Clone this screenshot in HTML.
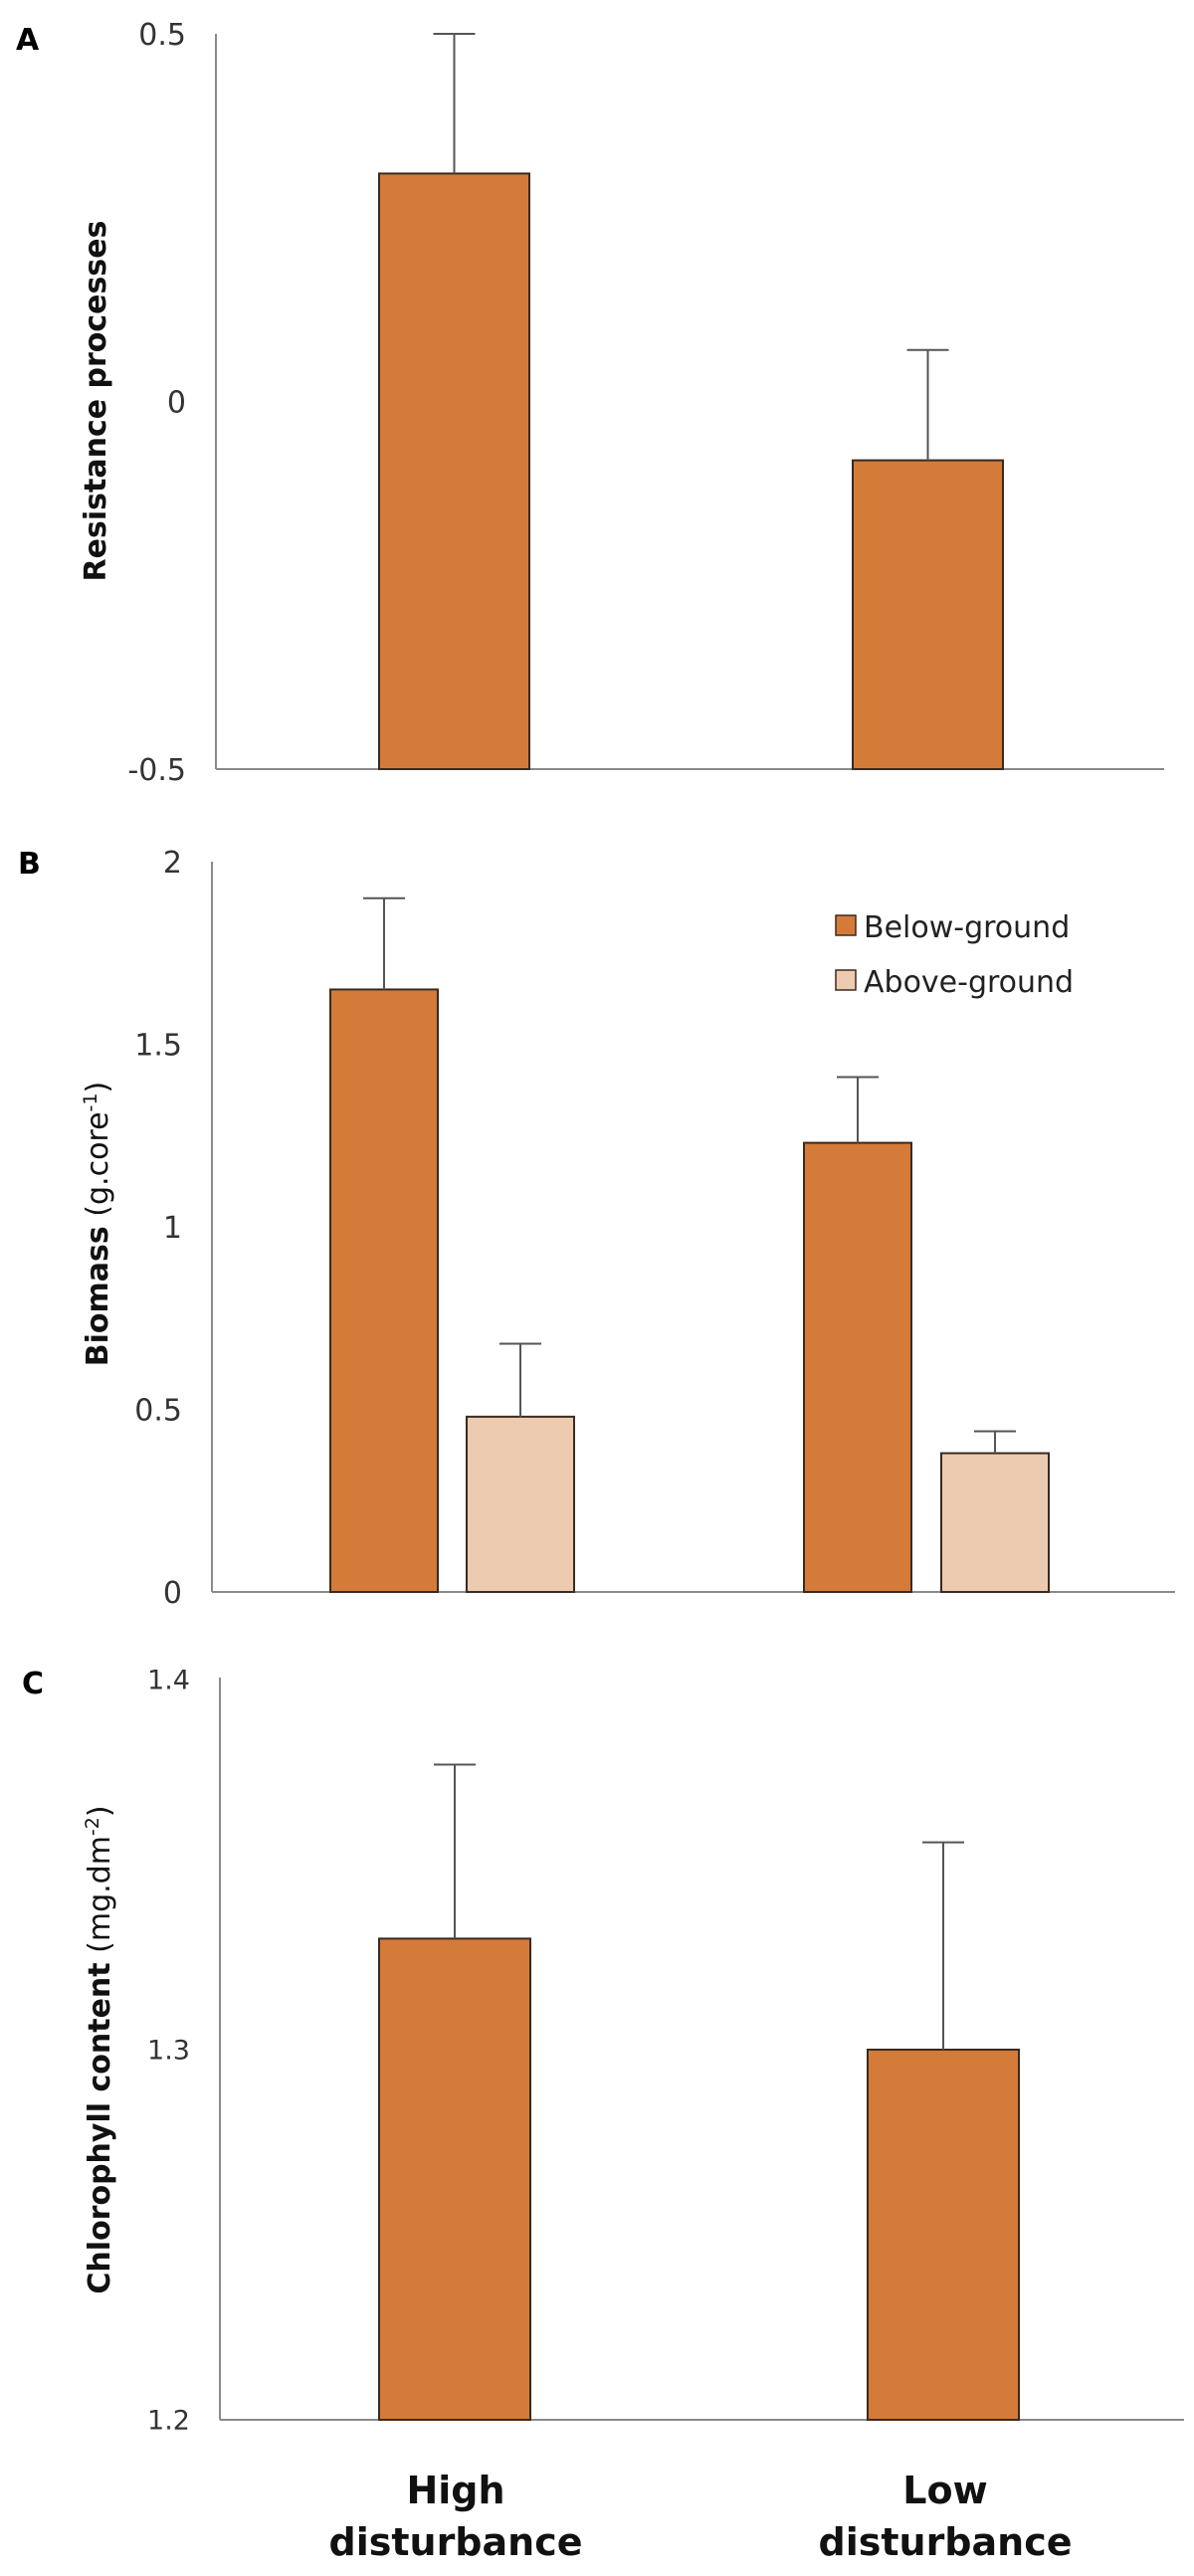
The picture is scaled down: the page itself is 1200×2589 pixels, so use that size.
<!DOCTYPE html>
<html><head><meta charset="utf-8"><style>
html,body{margin:0;padding:0;background:#fff;}
svg{display:block;font-family:"DejaVu Sans","Liberation Sans",sans-serif;}
</style></head><body>
<svg id="fig" width="1200" height="2589" viewBox="0 0 1200 2589">
<g>
<text x="16" y="50" font-size="30" font-weight="bold" fill="#000">A</text>
<text transform="translate(106,403) rotate(-90)" text-anchor="middle" font-size="30" font-weight="bold" fill="#111">Resistance processes</text>
</g>
<g>
<text x="18" y="878" font-size="30" font-weight="bold" fill="#000">B</text>
<text transform="translate(108,1230) rotate(-90)" text-anchor="middle" font-size="30" fill="#111"><tspan font-weight="bold">Biomass</tspan> (g.core<tspan font-size="19" dy="-11">-1</tspan><tspan dy="11">)</tspan></text>
<rect x="840" y="920" width="20" height="20" fill="#D47B3A" stroke="#3a2a20" stroke-width="1.5"/>
<text x="868" y="942" font-size="30" fill="#222">Below-ground</text>
<rect x="840" y="975" width="20" height="20" fill="#EDCBB0" stroke="#3a2a20" stroke-width="1.5"/>
<text x="868" y="997" font-size="30" fill="#222">Above-ground</text>
</g>
<g>
<text x="22" y="1702" font-size="30" font-weight="bold" fill="#000">C</text>
<text transform="translate(110,2060) rotate(-90)" text-anchor="middle" font-size="30" fill="#111"><tspan font-weight="bold">Chlorophyll content</tspan> (mg.dm<tspan font-size="19" dy="-11">-2</tspan><tspan dy="11">)</tspan></text>
<text x="458" y="2516" text-anchor="middle" font-size="38" font-weight="bold" fill="#111">High</text>
<text x="458" y="2568" text-anchor="middle" font-size="38" font-weight="bold" fill="#111">disturbance</text>
<text x="950" y="2516" text-anchor="middle" font-size="38" font-weight="bold" fill="#111">Low</text>
<text x="950" y="2568" text-anchor="middle" font-size="38" font-weight="bold" fill="#111">disturbance</text>
</g>
</svg>
<script>
// Panel A data
const aCategories = ["High disturbance", "Low disturbance"];
const aValues = [0.31, -0.08];
const aErrors = [0.19, 0.15];
const aTicks = [0.5, 0, -0.5];
const aTickLabels = ["0.5", "0", "-0.5"];
// Panel B data
const bCategories = ["High disturbance", "Low disturbance"];
const bBelow = [1.65, 1.23];
const bBelowErr = [0.25, 0.18];
const bAbove = [0.48, 0.38];
const bAboveErr = [0.20, 0.06];
const bTicks = [2, 1.5, 1, 0.5, 0];
const bTickLabels = ["2", "1.5", "1", "0.5", "0"];
// Panel C data
const cCategories = ["High disturbance", "Low disturbance"];
const cValues = [1.33, 1.30];
const cErrors = [0.047, 0.056];
const cTicks = [1.4, 1.3, 1.2];
const cTickLabels = ["1.4", "1.3", "1.2"];

const NS = "http://www.w3.org/2000/svg";
const svg = document.getElementById("fig");
function mk(tag, attrs, parent) {
  const e = document.createElementNS(NS, tag);
  for (const k in attrs) e.setAttribute(k, attrs[k]);
  (parent || svg).appendChild(e);
  return e;
}
function scaleY(min, max, yBottom, yTop) {
  return v => yBottom - (v - min) / (max - min) * (yBottom - yTop);
}
function axes(g, x0, x1, yTop, yBot, ticks, labels, y, fs, prefix) {
  const ax = mk("line", {x1: x0, y1: yTop, x2: x0, y2: yBot, stroke: "#8a8a8a", "stroke-width": 2}, g);
  
  
  const bx = mk("line", {x1: x0, y1: yBot, x2: x1, y2: yBot, stroke: "#8a8a8a", "stroke-width": 2}, g);
  
  
  ticks.forEach((t, i) => {
    const tx = mk("text", {x: x0 - 30, y: y(t) + fs * 0.36, "text-anchor": "end", "font-size": fs, fill: "#333"}, g);
    tx.textContent = labels[i];
    
    
  });
}
function bar(g, xl, w, val, err, base, y, fill, name) {
  const top = Math.min(y(val), y(base)), h = Math.abs(y(val) - y(base));
  const r = mk("rect", {x: xl, y: top, width: w, height: h, fill: fill, stroke: "#3a2a20", "stroke-width": 2}, g);
  
  
  const cx = xl + w / 2;
  const eg = mk("g", {}, g);
  
  
  mk("line", {x1: cx, y1: y(val), x2: cx, y2: y(val + err), stroke: "#555", "stroke-width": 2}, eg);
  mk("line", {x1: cx - 21, y1: y(val + err), x2: cx + 21, y2: y(val + err), stroke: "#555", "stroke-width": 2}, eg);
}

// Panel A
const gA = mk("g", {});


const yA = scaleY(-0.5, 0.5, 773, 34);
axes(gA, 217, 1170, 34, 773, aTicks, aTickLabels, yA, 30, "a");
const aX = [381, 857];
aValues.forEach((v, i) => bar(gA, aX[i], 151, v, aErrors[i], -0.5, yA, "#D47B3A", "bar-a-" + (i === 0 ? "high" : "low")));

// Panel B
const gB = mk("g", {});


const yB = scaleY(0, 2, 1600, 866);
axes(gB, 213, 1181, 866, 1600, bTicks, bTickLabels, yB, 30, "b");
const bX1 = [332, 808], bX2 = [469, 946];
bBelow.forEach((v, i) => bar(gB, bX1[i], 108, v, bBelowErr[i], 0, yB, "#D47B3A", "bar-b-below-" + (i === 0 ? "high" : "low")));
bAbove.forEach((v, i) => bar(gB, bX2[i], 108, v, bAboveErr[i], 0, yB, "#EDCBB0", "bar-b-above-" + (i === 0 ? "high" : "low")));

// Panel C
const gC = mk("g", {});


const yC = scaleY(1.2, 1.4, 2432, 1688);
axes(gC, 221, 1190, 1686, 2432, cTicks, cTickLabels, yC, 27, "c");
const cX = [381, 872];
cValues.forEach((v, i) => bar(gC, cX[i], 152, v, cErrors[i], 1.2, yC, "#D47B3A", "bar-c-" + (i === 0 ? "high" : "low")));
</script>
</body></html>
